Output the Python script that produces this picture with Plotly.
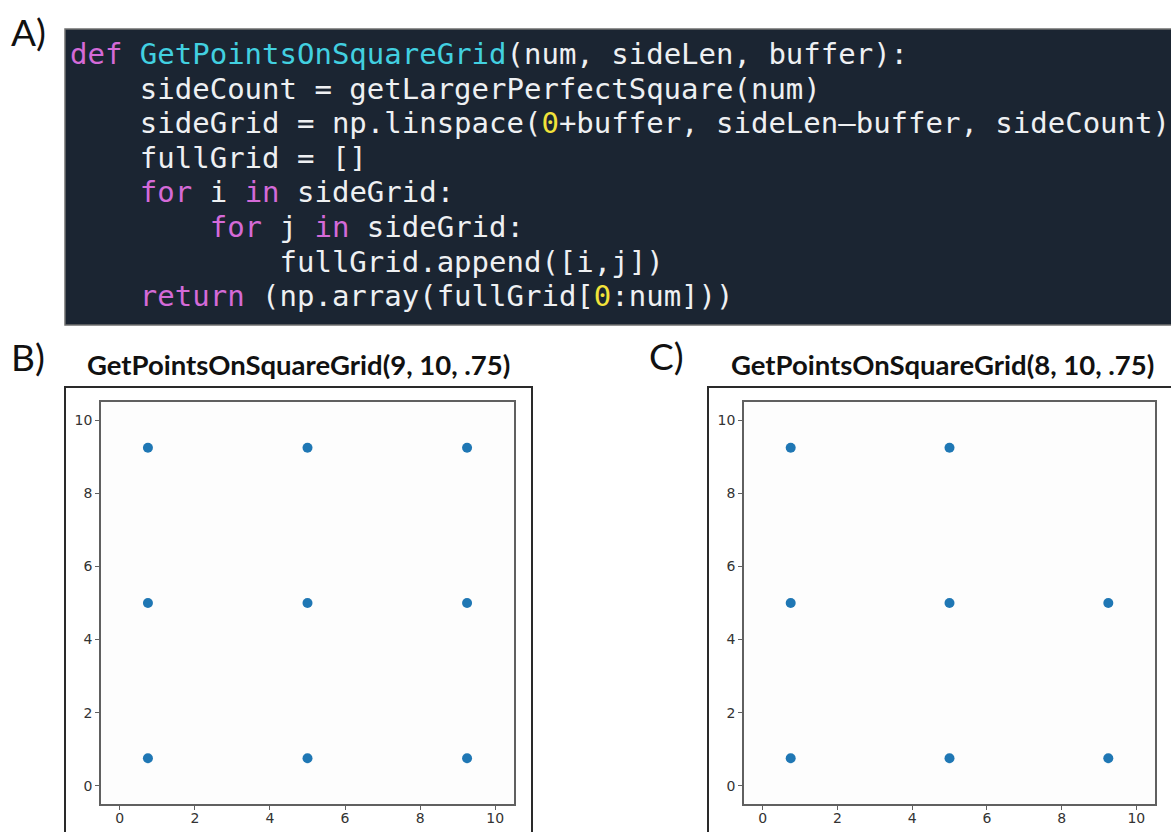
import re
import plotly.graph_objects as go

W, H = 1171, 832

# ---- data ----
side_grid = [0.75, 5.0, 9.25]
b_x = [0.75, 0.75, 0.75, 5.0, 5.0, 5.0, 9.25, 9.25, 9.25]
b_y = [0.75, 5.0, 9.25, 0.75, 5.0, 9.25, 0.75, 5.0, 9.25]
c_x = [0.75, 0.75, 0.75, 5.0, 5.0, 5.0, 9.25, 9.25]
c_y = [0.75, 5.0, 9.25, 0.75, 5.0, 9.25, 0.75, 5.0]
tick_vals = [0, 2, 4, 6, 8, 10]
tick_text = ["0", "2", "4", "6", "8", "10"]
title_b = "GetPointsOnSquareGrid(9, 10, .75)"
title_c = "GetPointsOnSquareGrid(8, 10, .75)"
panel_labels = ["A)", "B)", "C)"]
code_lines = [
    "def GetPointsOnSquareGrid(num, sideLen, buffer):",
    "    sideCount = getLargerPerfectSquare(num)",
    "    sideGrid = np.linspace(0+buffer, sideLen\u2013buffer, sideCount)",
    "    fullGrid = []",
    "    for i in sideGrid:",
    "        for j in sideGrid:",
    "            fullGrid.append([i,j])",
    "    return (np.array(fullGrid[0:num]))",
]

KW = "#d46ad8"
FN = "#42d0e0"
NUM = "#f2e33a"
TXT = "#eef0f2"


def px(x):
    return x / W


def py(y):
    return 1 - y / H


def colorize(line):
    toks = re.findall(r"[A-Za-z_]\w*|\d+|\s+|.", line)
    out = []
    prev_def = False
    for t in toks:
        s = t.replace(" ", "\u00a0")
        if t in ("def", "for", "in", "return"):
            out.append(f'<span style="color:{KW}">{s}</span>')
            prev_def = t == "def"
        elif t.isspace():
            out.append(s)
        elif prev_def and re.match(r"[A-Za-z_]", t):
            out.append(f'<span style="color:{FN}">{s}</span>')
            prev_def = False
        elif t.isdigit():
            out.append(f'<span style="color:{NUM}">{s}</span>')
        else:
            out.append(s)
    return "".join(out)


fig = go.Figure()

marker = dict(color="#1f77b4", size=10)
fig.add_trace(go.Scatter(x=b_x, y=b_y, mode="markers", marker=marker,
                         xaxis="x", yaxis="y", showlegend=False))
fig.add_trace(go.Scatter(x=c_x, y=c_y, mode="markers", marker=marker,
                         xaxis="x2", yaxis="y2", showlegend=False))

ax_common = dict(range=[-0.5, 10.5], showgrid=False, zeroline=False,
                 showline=True, mirror=True, linecolor="#606060", linewidth=1.5,
                 ticks="outside", ticklen=4, tickcolor="#606060",
                 tickvals=tick_vals, ticktext=tick_text,
                 tickfont=dict(family="DejaVu Sans", size=14, color="#333333"))

ydom = [py(804), py(402)]
fig.update_layout(
    width=W, height=H, margin=dict(l=0, r=0, t=0, b=0),
    paper_bgcolor="white", plot_bgcolor="#fdfdfd",
    xaxis=dict(domain=[px(101), px(514)], anchor="y", ticklabelstandoff=-4, **ax_common),
    yaxis=dict(domain=ydom, anchor="x", **ax_common),
    xaxis2=dict(domain=[px(744), px(1155)], anchor="y2", ticklabelstandoff=-4, **ax_common),
    yaxis2=dict(domain=ydom, anchor="x2", **ax_common),
)

shapes = [
    # code box
    dict(type="rect", xref="paper", yref="paper",
         x0=px(65), x1=px(1180), y0=py(325), y1=py(29),
         fillcolor="#1b2532", line=dict(color="#707070", width=1.5), layer="below"),
    # outer frames of panels B and C
    dict(type="rect", xref="paper", yref="paper",
         x0=px(65), x1=px(532), y0=py(850), y1=py(387),
         line=dict(color="#2a2a2a", width=2), layer="below"),
    dict(type="rect", xref="paper", yref="paper",
         x0=px(708), x1=px(1180), y0=py(850), y1=py(387),
         line=dict(color="#2a2a2a", width=2), layer="below"),
]
fig.update_layout(shapes=shapes)

annotations = []
for k, line in enumerate(code_lines):
    annotations.append(dict(
        text=colorize(line), xref="paper", yref="paper",
        x=px(68), y=py(54 + k * 34.6), xanchor="left", yanchor="middle",
        showarrow=False, font=dict(family="DejaVu Sans Mono", size=29, color=TXT)))

label_pos = [(9, 32), (9, 356), (647, 355)]
for lab, (lx, ly) in zip(panel_labels, label_pos):
    annotations.append(dict(
        text=lab, xref="paper", yref="paper", x=px(lx), y=py(ly),
        xanchor="left", yanchor="middle", showarrow=False,
        font=dict(family="Lato", size=37, color="#111111")))

for t, cx in ((title_b, 298.5), (title_c, 942)):
    annotations.append(dict(
        text=f"<b>{t}</b>", xref="paper", yref="paper", x=px(cx), y=py(364),
        xanchor="center", yanchor="middle", showarrow=False,
        font=dict(family="Lato", size=27.5, color="#111111")))

fig.update_layout(annotations=annotations)

fig.write_html("out.html",
               config={"displayModeBar": False},
               post_script="document.body.style.margin='0';"
                           "document.body.style.overflow='hidden';")
